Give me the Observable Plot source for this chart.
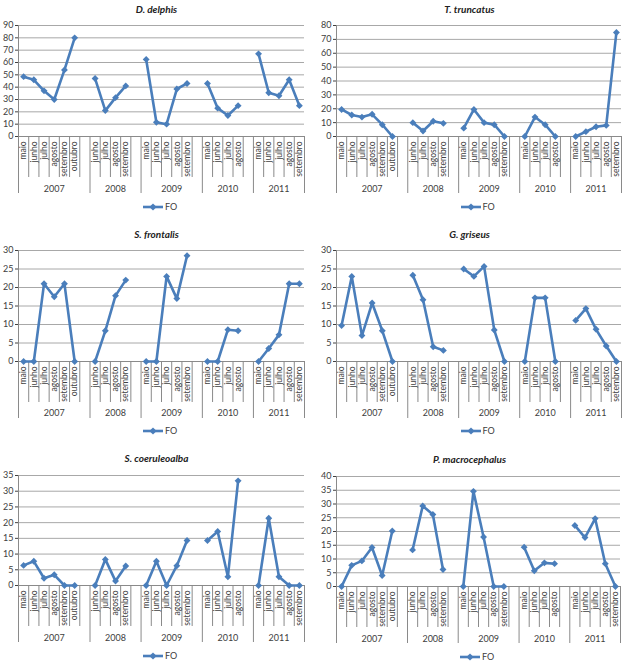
<!DOCTYPE html>
<html>
<head>
<meta charset="utf-8">
<script src="https://cdn.jsdelivr.net/npm/d3@7"></script>
<script src="https://cdn.jsdelivr.net/npm/@observablehq/plot@0.6"></script>
<style>
  body { margin: 0; background: #fff; }
  #root { position: relative; width: 626px; height: 662px; font-family: Lato, "Open Sans", sans-serif; color: #404040; overflow: hidden; }
  .panel { position: absolute; width: 313px; height: 222px; }
  .panel svg.chart { position: absolute; left: 0; top: 0; overflow: visible; }
  .title { position: absolute; left: 0; width: 313px; text-align: center; font-weight: bold; font-style: italic; font-size: 10px; line-height: 12px; color: #222; }
  .legend { position: absolute; display: flex; align-items: center; font-size: 9px; line-height: 10px; }
  .legend span { margin-left: 2px; }
</style>
</head>
<body>
<div id="root"></div>
<script>
// ---- data ----
const years = ["2007", "2008", "2009", "2010", "2011"];
const months2007 = ["maio", "junho", "julho", "agosto", "setembro", "outubro"];
const months2008 = ["junho", "julho", "agosto", "setembro"];
const months2009 = ["maio", "junho", "julho", "agosto", "setembro"];
const months2010 = ["maio", "junho", "julho", "agosto"];
const months2011 = ["maio", "junho", "julho", "agosto", "setembro"];
const monthsByYear = [months2007, months2008, months2009, months2010, months2011];
const seriesName = "FO";
const species = ["D. delphis", "T. truncatus", "S. frontalis", "G. griseus", "S. coeruleoalba", "P. macrocephalus"];

const dDelphis = [48.5, 46, 37, 30, 54, 80, 47, 21, 31.5, 41, 62.5, 11.5, 10, 38.5, 43, 43, 23, 17, 25, 67, 35.5, 33, 46, 25];
const tTruncatus = [19.5, 15.5, 14, 16, 8.5, 0, 10, 4, 11, 9.5, 6, 19.5, 10, 8.5, 0, 0, 14, 8.5, 0, 0, 3.5, 7, 8, 75];
const sFrontalis = [0, 0, 21, 17.5, 21, 0, 0, 8.3, 17.8, 22, 0, 0, 23, 17, 28.6, 0, 0, 8.6, 8.3, 0, 3.5, 7.2, 21, 21];
const gGriseus = [9.7, 23, 7, 15.8, 8.3, 0, 23.3, 16.7, 4, 3, 25, 23, 25.7, 8.5, 0, 0, 17.2, 17.2, 0, 11.1, 14.3, 8.7, 4.2, 0];
const sCoeruleoalba = [6.4, 7.7, 2.3, 3.4, 0, 0, 0, 8.3, 1.4, 6.2, 0, 7.7, 0, 6.3, 14.3, 14.3, 17.2, 2.8, 33.3, 0, 21.4, 2.8, 0, 0];
const pMacrocephalus = [0, 7.7, 9.3, 14.2, 4, 20.2, 13.3, 29.3, 26.2, 6.2, 0, 34.6, 18, 0, 0, 14.3, 5.7, 8.6, 8.3, 22.2, 17.8, 24.7, 8.3, 0];
const seriesValues = [dDelphis, tTruncatus, sFrontalis, gGriseus, sCoeruleoalba, pMacrocephalus];

const yMax = [90, 80, 30, 30, 35, 40];
const yStep = [10, 10, 5, 5, 5, 5];

// ---- layout (pixels) ----
const layout = [
  {left: 0,   top: 0,   mL: 18, mR: 9, mT: 25, bottom: 136, titleY: 9,  yearDy: 53, legendDy: 71},
  {left: 313, top: 0,   mL: 23, mR: 5, mT: 25, bottom: 136, titleY: 9,  yearDy: 53, legendDy: 71},
  {left: 0,   top: 220, mL: 18, mR: 9, mT: 30, bottom: 141, titleY: 14, yearDy: 52, legendDy: 70},
  {left: 313, top: 220, mL: 23, mR: 5, mT: 30, bottom: 141, titleY: 14, yearDy: 52, legendDy: 70},
  {left: 0,   top: 440, mL: 18, mR: 9, mT: 35, bottom: 145, titleY: 18, yearDy: 53, legendDy: 71},
  {left: 313, top: 440, mL: 23, mR: 6, mT: 36, bottom: 146, titleY: 19, yearDy: 53, legendDy: 71}
];
const W = 313, H = 222;
const blue = "#4A7EBB";
const gridColor = "#a8a8a8";
const axisColor = "#8a8a8a";
const textColor = "#404040";
const font = "Lato, 'Open Sans', sans-serif";

// category slots (an empty category between years, as in the original)
const slots = [];
const groups = [];
let k = 0;
years.forEach((yr, g) => {
  const start = k;
  monthsByYear[g].forEach(m => { slots.push({year: yr, month: m, pos: k + 0.5}); k++; });
  if (g < years.length - 1) k++;
  groups.push({year: yr, start, end: k});
});
const nSlots = k;
const groupBounds = [0, ...groups.map(d => d.end)];
const monthBounds = d3.range(1, nSlots).filter(b => !groupBounds.includes(b));

const root = document.getElementById("root");

species.forEach((name, p) => {
  const L = layout[p];
  const rows = slots.map((s, j) => ({...s, value: seriesValues[p][j]}));
  const ticks = d3.range(0, yMax[p] + 1e-9, yStep[p]);

  const chart = Plot.plot({
    width: W,
    height: H,
    marginLeft: L.mL,
    marginRight: L.mR,
    marginTop: L.mT,
    marginBottom: H - L.bottom,
    style: {fontFamily: font, fontSize: "9px", color: textColor, background: "transparent", overflow: "visible"},
    x: {domain: [0, nSlots], axis: null},
    y: {domain: [0, yMax[p]], ticks: ticks, tickSize: 3, tickPadding: 2, label: null, tickFormat: d => String(d)},
    marks: [
      Plot.ruleY(ticks, {stroke: gridColor, strokeWidth: 1}),
      Plot.ruleY([0], {stroke: axisColor, strokeWidth: 1}),
      Plot.ruleX([0], {stroke: axisColor, strokeWidth: 1}),
      Plot.ruleX(monthBounds, {y1: 0, y2: 0, insetBottom: -41, stroke: axisColor, strokeWidth: 1}),
      Plot.ruleX(groupBounds, {y1: 0, y2: 0, insetBottom: -57, stroke: axisColor, strokeWidth: 1}),
      Plot.text(slots, {x: "pos", y: 0, text: "month", rotate: -90, textAnchor: "end", lineAnchor: "middle", dy: 5, fill: textColor, fontSize: 8.5}),
      Plot.text(groups, {x: d => (d.start + d.end) / 2, y: 0, text: "year", dy: L.yearDy, fill: textColor, fontSize: 9}),
      Plot.line(rows, {x: "pos", y: "value", z: "year", stroke: blue, strokeWidth: 2.6, strokeLinejoin: "round"}),
      Plot.dot(rows, {x: "pos", y: "value", symbol: "diamond2", r: 3.1, fill: blue, stroke: "none"})
    ]
  });
  chart.classList.add("chart");

  const panel = document.createElement("div");
  panel.className = "panel";
  panel.style.left = L.left + "px";
  panel.style.top = L.top + "px";
  panel.appendChild(chart);

  const title = document.createElement("div");
  title.className = "title";
  title.textContent = name;
  title.style.top = (L.titleY - 6) + "px";
  panel.appendChild(title);

  const legend = document.createElement("div");
  legend.className = "legend";
  legend.style.top = (L.bottom + L.legendDy - 5) + "px";
  legend.style.left = ((L.mL + W - L.mR) / 2 - 18) + "px";
  legend.innerHTML = `<svg width="20" height="8"><line x1="0" y1="4" x2="20" y2="4" stroke="${blue}" stroke-width="2.6"/><path d="M10,0.4L13.6,4L10,7.6L6.4,4Z" fill="${blue}"/></svg><span>${seriesName}</span>`;
  panel.appendChild(legend);

  root.appendChild(panel);
});
</script>
</body>
</html>
